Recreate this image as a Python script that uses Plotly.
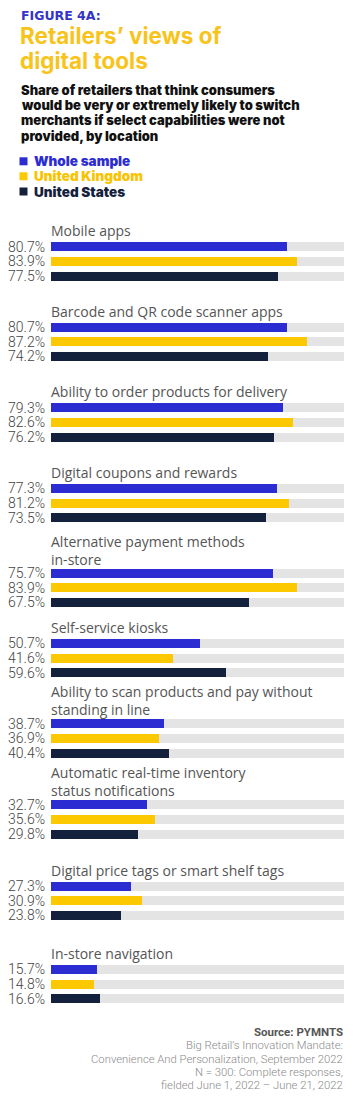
import plotly.graph_objects as go

# ---------------- data ----------------
categories = [
    "Mobile apps",
    "Barcode and QR code scanner apps",
    "Ability to order products for delivery",
    "Digital coupons and rewards",
    "Alternative payment methods\nin-store",
    "Self-service kiosks",
    "Ability to scan products and pay without\nstanding in line",
    "Automatic real-time inventory\nstatus notifications",
    "Digital price tags or smart shelf tags",
    "In-store navigation",
]
series_names = ["Whole sample", "United Kingdom", "United States"]
whole_sample = [80.7, 80.7, 79.3, 77.3, 75.7, 50.7, 38.7, 32.7, 27.3, 15.7]
united_kingdom = [83.9, 87.2, 82.6, 81.2, 83.9, 41.6, 36.9, 35.6, 30.9, 14.8]
united_states = [77.5, 74.2, 76.2, 73.5, 67.5, 59.6, 40.4, 29.8, 23.8, 16.6]
series_values = [whole_sample, united_kingdom, united_states]

# ---------------- layout / style ----------------
W, H = 356, 1106
COLORS = ["#2c2cd3", "#fcc800", "#14213d"]
TRACK = "#e4e4e4"
X0_PX, X1_PX = 51, 344            # pixel span of the 0-100 scale
group_label_px = [230.7, 311, 391.7, 472.3, 543.3, 627.3, 694, 775, 870, 953.3]
LINE_GAP = 13.7
LABEL_TO_BAR = 16
BAR_PITCH = 14.7
BAR_H = 9
CAT_SIZE = 14

fig = go.Figure()

bar_y = [[], [], []]
for g, cat in enumerate(categories):
    n_lines = len(cat.split("\n"))
    first = group_label_px[g] + (n_lines - 1) * LINE_GAP + LABEL_TO_BAR
    for s in range(3):
        bar_y[s].append(first + s * BAR_PITCH)

all_y = [y for s in range(3) for y in bar_y[s]]
fig.add_trace(go.Bar(
    x=[100] * len(all_y), y=all_y, orientation="h", width=BAR_H,
    marker=dict(color=TRACK, line=dict(width=0)), hoverinfo="skip", showlegend=False,
))
for s in range(3):
    fig.add_trace(go.Bar(
        x=series_values[s], y=bar_y[s], orientation="h", width=BAR_H,
        name=series_names[s], marker=dict(color=COLORS[s], line=dict(width=0)),
        showlegend=False,
    ))

ann = []
VAL_FONT = dict(family="Roboto", size=14, color="#444444", weight=300)
CAT_FONT = dict(family="Open Sans", size=CAT_SIZE, color="#555555")
for s in range(3):
    for g in range(len(categories)):
        ann.append(dict(x=0, y=bar_y[s][g], xref="x", yref="y", text=f"{series_values[s][g]:.1f}%",
                        xanchor="right", yanchor="middle", xshift=-4, showarrow=False, font=VAL_FONT))
for g, cat in enumerate(categories):
    lines = cat.split("\n")
    yc = group_label_px[g] + (len(lines) - 1) * LINE_GAP / 2
    ann.append(dict(x=0, y=yc, xref="x", yref="y", text="<br>".join(lines),
                    xanchor="left", yanchor="middle", align="left", xshift=-2, showarrow=False,
                    font=CAT_FONT))

def px(xp):
    return xp / W

def add_text(text, xp, yp, font, xanchor="left"):
    ann.append(dict(x=px(xp), y=yp, xref="paper", yref="y", text=text, xanchor=xanchor,
                    yanchor="middle", showarrow=False, font=font))

add_text("FIGURE 4A:", 19, 15.5, dict(family="DejaVu Sans", size=12.5, color="#3434c8", weight=700))
TITLE_FONT = dict(family="Inter", size=22.5, color="#f8c41c", weight=700)
add_text("Retailers’ views of", 18, 35.5, TITLE_FONT)
add_text("digital tools", 18, 60, TITLE_FONT)
SUB_FONT = dict(family="Inter", size=13, color="#111111", weight=900)
sub_lines = ["Share of retailers that think consumers",
             "would be very or extremely likely to switch",
             "merchants if select capabilities were not",
             "provided, by location"]
for i, t in enumerate(sub_lines):
    add_text(t, 18.5, 90 + i * 15.2, SUB_FONT)

legend_y = [161.3, 176.3, 191.5]
for s in range(3):
    add_text(series_names[s], 32, legend_y[s],
             dict(family="Inter", size=13.5, color=COLORS[s] if s != 1 else "#f9c300", weight=900))

src_lines = ["Big Retail’s Innovation Mandate:",
             "Convenience And Personalization, September 2022",
             "N = 300: Complete responses,",
             "fielded June 1, 2022 – June 21, 2022"]
add_text("<b>Source: PYMNTS</b>", 345, 1032.3, dict(family="Roboto", size=11.5, color="#555555"), xanchor="right")
for i, t in enumerate(src_lines):
    add_text(t, 345, 1045.6 + i * 13.4, dict(family="Roboto", size=11.3, color="#8a8a8a", weight=300),
             xanchor="right")

shapes = []
for s in range(3):
    shapes.append(dict(type="rect", xref="paper", yref="y", x0=px(19.5), x1=px(27.5),
                       y0=legend_y[s] - 4, y1=legend_y[s] + 4, fillcolor=COLORS[s], line=dict(width=0)))

fig.update_layout(
    width=W, height=H, margin=dict(l=0, r=0, t=0, b=0),
    paper_bgcolor="white", plot_bgcolor="white",
    barmode="overlay", bargap=0,
    xaxis=dict(domain=[X0_PX / W, X1_PX / W], range=[0, 100], visible=False, fixedrange=True),
    yaxis=dict(domain=[0, 1], range=[H, 0], visible=False, fixedrange=True),
    annotations=ann, shapes=shapes, showlegend=False,
)

fig.write_html("out.html", config={"displayModeBar": False},
               post_script="document.body.style.margin='0';document.body.style.overflow='hidden';")
